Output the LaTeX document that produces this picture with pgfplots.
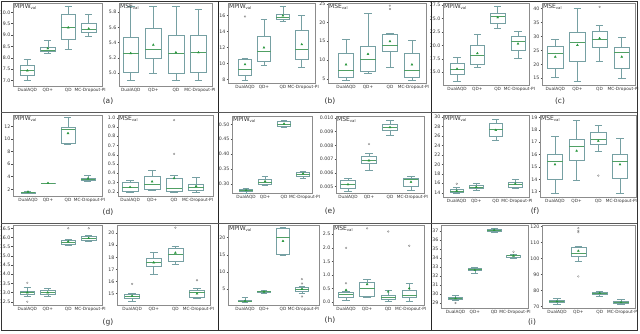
\documentclass[border=0pt]{standalone}
\usepackage{fontspec}
\setmainfont{DejaVu Sans}
\usepackage{pgfplots}
\pgfplotsset{compat=1.18}
\usepgfplotslibrary{statistics}

\definecolor{boxc}{RGB}{118,160,163}
\definecolor{medc}{RGB}{80,160,100}
\definecolor{meanc}{RGB}{40,150,60}
\definecolor{framec}{RGB}{140,140,140}

\pgfplotsset{
  bp/.style={
    scale only axis, anchor=north west,
    axis line style={framec, line width=0.5pt},
    xmin=0.3, xmax=4.65,
    xtick={1,2,3,4},
    xticklabels={DualAQD,QD+,QD,\hspace{3pt}MC-Dropout-PI},
    xtick style={draw=none},
    ytick pos=left, tick align=outside,
    major tick length=1.5pt,
    ytick style={black!70, line width=0.4pt},
    tick label style={text=black!80},
    xticklabel style={inner sep=1pt, font=\fontsize{4.3}{5}\selectfont},
    yticklabel style={inner sep=1pt, font=\fontsize{4.7}{5}\selectfont},
    scaled ticks=false,
    /pgf/number format/assume math mode=true,
    boxplot/draw direction=y,
    boxplot/box extend=0.7,
    boxplot/whisker extend=0.35,
    boxplot/every median/.style={draw=medc, line width=0.6pt},
  },
  bx/.style={draw=boxc, line width=0.55pt, solid, mark=o, mark size=0.9pt,
    mark options={draw=black!50, line width=0.3pt}},
  mn/.style={only marks, mark=triangle*, mark size=1.1pt, color=meanc},
  p1/.style={yticklabel style={/pgf/number format/fixed, /pgf/number format/fixed zerofill, /pgf/number format/precision=1}},
  p2/.style={yticklabel style={/pgf/number format/fixed, /pgf/number format/fixed zerofill, /pgf/number format/precision=2}},
  p3/.style={yticklabel style={/pgf/number format/fixed, /pgf/number format/fixed zerofill, /pgf/number format/precision=3}},
}

% one box: position, lower whisker, q1, median, q3, upper whisker, outliers
\newcommand{\bx}[7]{\addplot[bx, boxplot prepared={draw position=#1,
  lower whisker=#2, lower quartile=#3, median=#4, upper quartile=#5,
  upper whisker=#6}] coordinates {#7};}
\newcommand{\ttl}[2]{\node[anchor=north west, inner sep=1pt,
  font=\fontsize{6}{6}\selectfont, text=black!80, xshift=#2]
  at (rel axis cs:0,1) {#1\raisebox{-0.35ex}{\fontsize{3.8}{4}\selectfont val}};}

\begin{document}
\begin{tikzpicture}
\useasboundingbox (0,0) rectangle (640pt,333pt);

% ---------- row 1 ----------
\begin{axis}[bp, at={(13pt,330pt)}, width=89pt, height=83pt,
  ymin=6.76, ymax=10.41, ytick={7,7.5,...,10}, p1]
\bx{1}{6.99}{7.25}{7.47}{7.65}{7.94}{}
\bx{2}{8.21}{8.28}{8.32}{8.47}{8.79}{}
\bx{3}{8.38}{8.82}{9.32}{9.9}{10.26}{}
\bx{4}{8.94}{9.12}{9.26}{9.5}{9.9}{}
\addplot[mn] coordinates {(1,7.44)(2,8.41)(3,9.33)(4,9.28)};
\ttl{MPIW}{0pt}
\end{axis}

\begin{axis}[bp, at={(119pt,330pt)}, width=93pt, height=83pt,
  xmin=0.48, xmax=4.6, ymin=4.83, ymax=5.92, ytick={5.0,5.2,...,5.8}, p1]
\bx{1}{4.90}{5.01}{5.26}{5.47}{5.88}{}
\bx{2}{5.0}{5.20}{5.31}{5.59}{5.88}{}
\bx{3}{4.90}{5.0}{5.26}{5.50}{5.88}{}
\bx{4}{4.91}{5.01}{5.27}{5.50}{5.84}{}
\addplot[mn] coordinates {(1,5.26)(2,5.37)(3,5.27)(4,5.27)};
\ttl{MSE}{0pt}
\end{axis}

\begin{axis}[bp, at={(228pt,330pt)}, width=87pt, height=80pt,
  xmin=0.1, xmax=4.7, ymin=7.58, ymax=17.58, ytick={8,10,...,16}]
\bx{1}{7.9}{8.6}{9.25}{10.5}{10.7}{(0,15.9)}
\bx{2}{9.75}{10.3}{11.5}{13.4}{15.6}{}
\bx{3}{15.3}{15.6}{15.8}{16.2}{17.2}{}
\bx{4}{9.6}{10.5}{11.75}{14.2}{16.1}{}
\addplot[mn] coordinates {(1,9.9)(2,12.0)(3,16.0)(4,12.4)};
\ttl{MPIW}{0pt}
\end{axis}

\begin{axis}[bp, at={(328pt,330pt)}, width=98pt, height=80pt,
  xmin=0.18, xmax=4.64, ymin=3.9, ymax=25.2, ytick={5,10,...,25}]
\bx{1}{4.6}{5.5}{7.2}{11.9}{15.6}{}
\bx{2}{6.4}{7.0}{10.3}{13.6}{22.5}{}
\bx{3}{8.1}{12.3}{13.9}{17.0}{17.1}{(0,24.5)(0,23.6)}
\bx{4}{4.6}{5.5}{7.3}{11.9}{15.4}{}
\addplot[mn] coordinates {(1,8.8)(2,11.6)(3,15.0)(4,8.8)};
\ttl{MSE}{0pt}
\end{axis}

\begin{axis}[bp, at={(443pt,330pt)}, width=86pt, height=82pt,
  xmin=0.31, xmax=4.54, ymin=12.6, ymax=27.9, ytick={15,17.5,...,27.5}, p1]
\bx{1}{13.3}{14.6}{15.5}{16.6}{17.7}{}
\bx{2}{16.0}{16.4}{18.2}{20.0}{22.0}{}
\bx{3}{23.1}{24.1}{25.4}{25.9}{27.3}{}
\bx{4}{17.5}{19.0}{20.7}{21.6}{22.7}{}
\addplot[mn] coordinates {(1,15.6)(2,18.5)(3,25.2)(4,20.3)};
\ttl{MPIW}{0pt}
\end{axis}

\begin{axis}[bp, at={(542pt,330pt)}, width=93pt, height=82pt,
  xmin=0.4, xmax=4.6, ymin=12.6, ymax=42, ytick={15,20,...,40}]
\bx{1}{15.2}{18.6}{23.9}{26.5}{28.9}{}
\bx{2}{14.0}{21.0}{27.9}{31.4}{40.0}{}
\bx{3}{21.0}{26.3}{28.9}{32.0}{34.0}{(0,40.6)}
\bx{4}{15.0}{18.6}{24.3}{26.3}{29.6}{}
\addplot[mn] coordinates {(1,22.7)(2,26.9)(3,29.3)(4,22.7)};
\ttl{MSE}{0pt}
\end{axis}

% ---------- row 2 ----------
\begin{axis}[bp, at={(13pt,218pt)}, width=89pt, height=81pt,
  xmin=0.25, xmax=4.7, ymin=0.93, ymax=13.8, ytick={2,4,...,12}]
\bx{1}{1.3}{1.35}{1.45}{1.55}{1.7}{}
\bx{2}{2.9}{2.93}{2.96}{2.99}{3.02}{}
\bx{3}{9.2}{9.3}{11.5}{11.9}{13.4}{}
\bx{4}{3.25}{3.45}{3.6}{3.8}{4.25}{}
\addplot[mn] coordinates {(1,1.6)(2,2.97)(3,10.9)(4,3.7)};
\ttl{MPIW}{0pt}
\end{axis}

\begin{axis}[bp, at={(118pt,218pt)}, width=95pt, height=81pt,
  xmin=0.45, xmax=4.77, ymin=0.154, ymax=1.03, ytick={0.2,0.3,...,1.0}, p1]
\bx{1}{0.19}{0.21}{0.245}{0.30}{0.325}{}
\bx{2}{0.215}{0.225}{0.28}{0.37}{0.43}{}
\bx{3}{0.19}{0.20}{0.24}{0.35}{0.375}{(0,0.975)(0,0.61)}
\bx{4}{0.19}{0.215}{0.25}{0.285}{0.36}{}
\addplot[mn] coordinates {(1,0.25)(2,0.31)(3,0.345)(4,0.26)};
\ttl{MSE}{0pt}
\end{axis}

\begin{axis}[bp, at={(232pt,217pt)}, width=80pt, height=77pt,
  xmin=0.26, xmax=4.47, ymin=0.27, ymax=0.528, ytick={0.30,0.35,...,0.50}, p2]
\bx{1}{0.270}{0.275}{0.2775}{0.282}{0.2865}{}
\bx{2}{0.296}{0.300}{0.307}{0.315}{0.326}{}
\bx{3}{0.489}{0.494}{0.500}{0.509}{0.513}{}
\bx{4}{0.320}{0.326}{0.334}{0.339}{0.343}{}
\addplot[mn] coordinates {(1,0.279)(2,0.309)(3,0.502)(4,0.335)};
\ttl{MPIW}{0pt}
\end{axis}

\begin{axis}[bp, at={(336pt,217pt)}, width=88pt, height=77pt,
  xmin=0.43, xmax=4.62, ymin=0.00454, ymax=0.01014,
  ytick={0.005,0.006,0.007,0.008,0.009,0.010}, p3]
\bx{1}{0.0047}{0.00488}{0.0052}{0.00546}{0.00558}{}
\bx{2}{0.00622}{0.00668}{0.0069}{0.00719}{0.00742}{(0,0.00811)}
\bx{3}{0.00876}{0.00908}{0.00931}{0.00954}{0.00984}{}
\bx{4}{0.00477}{0.0050}{0.00553}{0.00558}{0.00576}{}
\addplot[mn] coordinates {(1,0.00516)(2,0.0069)(3,0.00932)(4,0.00534)};
\ttl{MSE}{0pt}
\end{axis}

\begin{axis}[bp, at={(443pt,218pt)}, width=86pt, height=82pt,
  xmin=0.3, xmax=4.7, ymin=13.1, ymax=30.4, ytick={14,16,...,30}]
\bx{1}{13.8}{14.15}{14.35}{14.7}{15.05}{(0,15.9)}
\bx{2}{14.55}{14.9}{15.2}{15.6}{16.1}{}
\bx{3}{25.1}{26.0}{27.4}{28.6}{29.5}{}
\bx{4}{14.9}{15.2}{15.8}{16.3}{16.8}{}
\addplot[mn] coordinates {(1,14.4)(2,15.2)(3,27.2)(4,15.9)};
\ttl{MPIW}{0pt}
\end{axis}

\begin{axis}[bp, at={(540pt,218pt)}, width=96pt, height=82pt,
  xmin=0.31, xmax=4.74, ymin=12.57, ymax=19.2, ytick={13,...,19}]
\bx{1}{12.9}{14.0}{15.47}{16.0}{17.5}{}
\bx{2}{13.9}{15.5}{16.7}{17.2}{18.8}{}
\bx{3}{16.3}{16.8}{17.26}{17.8}{18.36}{(0,14.3)}
\bx{4}{12.9}{14.1}{15.47}{16.05}{17.35}{}
\addplot[mn] coordinates {(1,15.2)(2,16.3)(3,17.1)(4,15.2)};
\ttl{MSE}{0pt}
\end{axis}

% ---------- row 3 ----------
\begin{axis}[bp, at={(13pt,108pt)}, width=89pt, height=80pt,
  ymin=12.32, ymax=16.68, ytick={12.5,13,...,16.5}, p1]
\bx{1}{12.77}{12.9}{13.0}{13.08}{13.26}{(0,13.53)(0,12.5)}
\bx{2}{12.82}{12.9}{13.0}{13.13}{13.22}{}
\bx{3}{15.56}{15.65}{15.74}{15.83}{15.89}{(0,16.5)}
\bx{4}{15.78}{15.83}{15.96}{16.07}{16.1}{(0,16.5)}
\addplot[mn] coordinates {(1,13.0)(2,13.0)(3,15.78)(4,15.96)};
\end{axis}

\begin{axis}[bp, at={(117pt,108pt)}, width=93pt, height=80pt,
  xmin=0.3, xmax=4.6, ymin=14.05, ymax=20.68, ytick={15,...,20}]
\bx{1}{14.4}{14.57}{14.73}{14.95}{15.0}{(0,15.8)}
\bx{2}{16.62}{17.22}{17.57}{17.92}{18.46}{}
\bx{3}{17.43}{17.65}{18.24}{18.73}{18.9}{(0,20.46)}
\bx{4}{14.6}{14.73}{15.14}{15.27}{15.4}{(0,16.1)}
\addplot[mn] coordinates {(1,14.8)(2,17.57)(3,18.38)(4,15.0)};
\end{axis}

\begin{axis}[bp, at={(228pt,108pt)}, width=91pt, height=80pt,
  xmin=0.1, xmax=4.9, ymin=0.33, ymax=23.7, ytick={5,10,...,20}]
\bx{1}{1.0}{1.3}{1.5}{1.7}{2.47}{}
\bx{2}{3.8}{4.0}{4.2}{4.4}{4.7}{}
\bx{3}{14.9}{15.1}{20.0}{22.7}{22.9}{}
\bx{4}{3.7}{4.4}{5.0}{5.5}{5.9}{(0,7.9)(0,6.6)(0,2.8)}
\addplot[mn] coordinates {(1,1.5)(2,4.2)(3,19.0)(4,5.0)};
\ttl{MPIW}{0pt}
\end{axis}

\begin{axis}[bp, at={(333pt,108pt)}, width=91pt, height=80pt,
  xmin=0.38, xmax=4.7, ymin=-0.1, ymax=2.84, ytick={0,0.5,...,2.5}, p1]
\bx{1}{0.08}{0.17}{0.28}{0.37}{0.42}{(0,2.0)(0,0.7)}
\bx{2}{0.18}{0.22}{0.51}{0.74}{0.86}{(0,2.72)}
\bx{3}{0.03}{0.12}{0.17}{0.27}{0.45}{(0,2.6)}
\bx{4}{0.05}{0.17}{0.25}{0.43}{0.7}{(0,2.08)}
\addplot[mn] coordinates {(1,0.45)(2,0.66)(3,0.39)(4,0.51)};
\ttl{MSE}{0pt}
\end{axis}

\begin{axis}[bp, at={(441pt,108pt)}, width=87pt, height=83pt,
  xmin=0.25, xmax=4.75, ymin=28.44, ymax=37.66, ytick={29,...,37}]
\bx{1}{29.26}{29.4}{29.56}{29.67}{29.86}{(0,29.0)}
\bx{2}{32.27}{32.64}{32.72}{32.83}{33.0}{}
\bx{3}{36.8}{37.0}{37.1}{37.2}{37.29}{}
\bx{4}{34.0}{34.13}{34.24}{34.32}{34.4}{(0,34.7)}
\addplot[mn] coordinates {(1,29.5)(2,32.64)(3,37.1)(4,34.24)};
\end{axis}

\begin{axis}[bp, at={(542pt,108pt)}, width=93pt, height=83pt,
  xmin=0.3, xmax=4.65, ymin=69, ymax=121, ytick={70,80,...,120}]
\bx{1}{71.5}{72.5}{73.1}{73.75}{74.8}{}
\bx{2}{98.1}{101.25}{103}{106.9}{107.5}{(0,119)(0,117.3)(0,116.5)(0,88.75)}
\bx{3}{76.25}{77.3}{78.3}{78.75}{79.4}{}
\bx{4}{71.5}{72.1}{72.7}{73.5}{74.2}{}
\addplot[mn] coordinates {(1,73.1)(2,104.8)(3,78.3)(4,72.5)};
\end{axis}

% panel letters
\begin{scope}[every node/.style={font=\fontsize{7.5}{8}\selectfont, text=black!80}]
\node at (108pt,232pt) {(a)};
\node at (330pt,232pt) {(b)};
\node at (560pt,232pt) {(c)};
\node at (108pt,121pt) {(d)};
\node at (330pt,122pt) {(e)};
\node at (535pt,122pt) {(f)};
\node at (108pt,11pt) {(g)};
\node at (330pt,13pt) {(h)};
\node at (532pt,11pt) {(i)};
\end{scope}

% panel borders
\draw[black!80, line width=0.8pt] (1pt,3pt) rectangle (637pt,332pt);
\draw[black!85, line width=0.8pt] (218pt,3pt) -- (218pt,332pt)
  (431pt,3pt) -- (431pt,332pt);
\draw[black!65, line width=0.7pt] (1pt,221pt) -- (637pt,221pt)
  (1pt,110pt) -- (637pt,110pt);
\end{tikzpicture}
\end{document}
